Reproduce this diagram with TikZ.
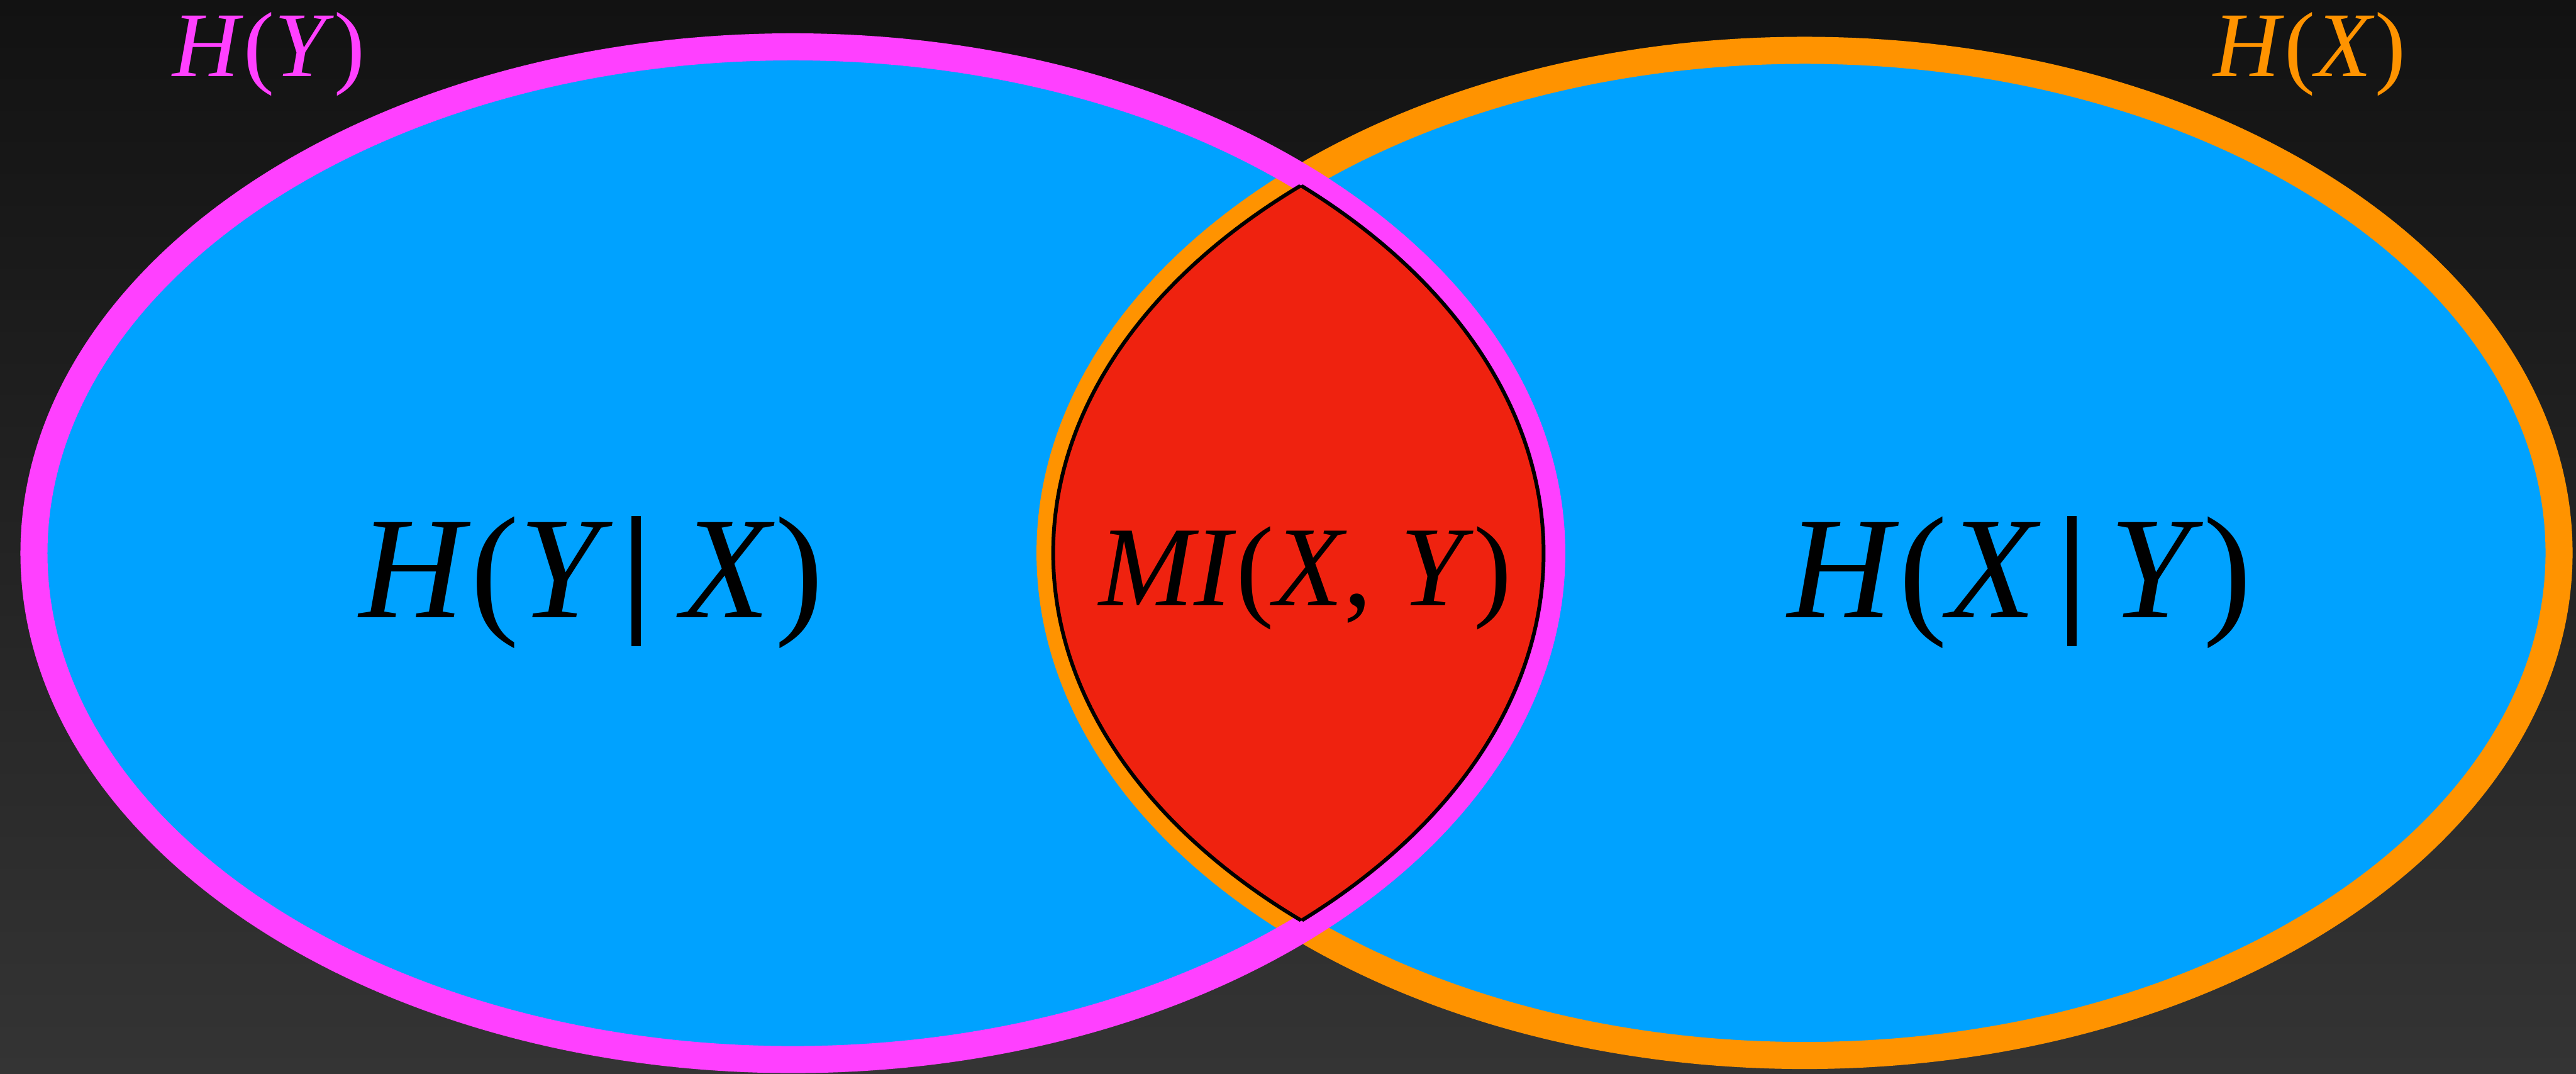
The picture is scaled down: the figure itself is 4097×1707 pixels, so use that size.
\documentclass[tikz,border=0pt]{standalone}
\usepackage{fontspec}
\setmainfont{Liberation Serif}
\definecolor{bgtop}{HTML}{121212}
\definecolor{bgbot}{HTML}{343434}
\definecolor{fillblue}{HTML}{00A2FF}
\definecolor{pinkline}{HTML}{FF40FF}
\definecolor{orangeline}{HTML}{FF9300}
\definecolor{lensred}{HTML}{EF220F}
\tikzset{
  ring/.style={line width=0.43cm},
  bigtext/.style={inner sep=0pt, anchor=base west, font=\fontsize{65.7pt}{70pt}\selectfont},
  midtext/.style={inner sep=0pt, anchor=base west, font=\fontsize{51.5pt}{56pt}\selectfont},
  toptext/.style={inner sep=0pt, anchor=base west, font=\fontsize{41.8pt}{46pt}\selectfont},
}
\newcommand{\condbar}{\rule[-0.45cm]{0.15cm}{2.07cm}}
\begin{document}
\begin{tikzpicture}[x=0.01cm,y=-0.01cm]
\useasboundingbox (0,0) rectangle (4097,1707);
\shade[top color=bgtop, bottom color=bgbot] (0,0) rectangle (4097,1707);
% fills
\fill[fillblue] (1261,879.5) ellipse [x radius=1207, y radius=805];
\fill[fillblue] (2870,879) ellipse [x radius=1200, y radius=799];
% rings
\draw[ring, orangeline] (2870,879) ellipse [x radius=1200, y radius=799];
\draw[ring, pinkline] (1261,879.5) ellipse [x radius=1207, y radius=805];
% lens
\begin{scope}
  \clip (1261,879.5) ellipse [x radius=1194, y radius=794];
  \fill[lensred] (2870,879) ellipse [x radius=1195, y radius=787];
  \draw[black, line width=1.7pt] (2870,879) ellipse [x radius=1195, y radius=787];
\end{scope}
\begin{scope}
  \clip (2870,879) ellipse [x radius=1195, y radius=787];
  \draw[black, line width=1.7pt] (1261,879.5) ellipse [x radius=1194, y radius=794];
\end{scope}
% texts
\node[bigtext] (hyx) at (571,982) {\textit{H}(\textit{Y}\hspace{0.29cm}\condbar\hspace{0.65cm}\textit{X})};
\node[bigtext] (hxy) at (2842,982) {\textit{H}(\textit{X}\hspace{0.42cm}\condbar\hspace{0.53cm}\textit{Y})};
\node[midtext] (mi) at (1747,963) {\textit{MI}(\textit{X}, \textit{Y})};
\node[toptext, text=pinkline] (hy) at (274,122) {\textit{H}(\textit{Y})};
\node[toptext, text=orangeline] (hx) at (3520,122) {\textit{H}(\textit{X})};
\end{tikzpicture}
\end{document}
